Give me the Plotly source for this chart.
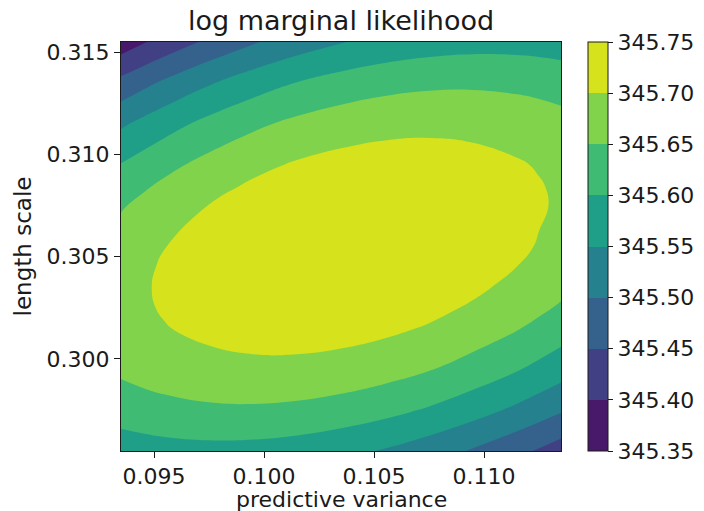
import plotly.graph_objects as go

# predictive variance (x) and length scale (y) grid (denser where the ellipse ends are)
variance = [0.0935, 0.0945, 0.0955, 0.0975, 0.0995, 0.1015, 0.1035, 0.1055, 0.1075, 0.1095, 0.1115, 0.1125, 0.1135]
length_scale = [0.2955, 0.2975, 0.2995, 0.3015, 0.3025, 0.3035, 0.3045, 0.3055, 0.3075, 0.3085, 0.3095, 0.3115, 0.3135, 0.3155]

# log marginal likelihood, one row per length scale (bottom to top)
log_likelihood = [
    [345.5724, 345.5776, 345.5815, 345.5851, 345.5832, 345.5759, 345.5635, 345.5458, 345.5231, 345.4955, 345.4630, 345.4449, 345.4257],
    [345.6229, 345.6298, 345.6352, 345.6420, 345.6432, 345.6390, 345.6294, 345.6147, 345.5948, 345.5699, 345.5400, 345.5233, 345.5053],
    [345.6585, 345.6670, 345.6742, 345.6843, 345.6887, 345.6877, 345.6813, 345.6695, 345.6526, 345.6305, 345.6034, 345.5881, 345.5715],
    [345.6787, 345.6891, 345.6980, 345.7115, 345.7194, 345.7216, 345.7184, 345.7098, 345.6959, 345.6769, 345.6527, 345.6388, 345.6236],
    [345.6831, 345.6944, 345.7042, 345.7195, 345.7290, 345.7330, 345.7314, 345.7244, 345.7122, 345.6946, 345.6720, 345.6588, 345.6444],
    [345.6835, 345.6957, 345.7065, 345.7236, 345.7349, 345.7406, 345.7407, 345.7354, 345.7247, 345.7088, 345.6877, 345.6753, 345.6616],
    [345.6800, 345.6932, 345.7048, 345.7238, 345.7369, 345.7444, 345.7462, 345.7426, 345.7336, 345.7193, 345.6998, 345.6881, 345.6752],
    [345.6725, 345.6867, 345.6993, 345.7201, 345.7351, 345.7443, 345.7479, 345.7460, 345.7387, 345.7260, 345.7081, 345.6973, 345.6851],
    [345.6455, 345.6615, 345.6761, 345.7008, 345.7195, 345.7325, 345.7398, 345.7414, 345.7376, 345.7283, 345.7138, 345.7045, 345.6940],
    [345.6258, 345.6429, 345.6585, 345.6851, 345.7058, 345.7207, 345.7298, 345.7333, 345.7312, 345.7237, 345.7109, 345.7025, 345.6928],
    [345.6021, 345.6202, 345.6368, 345.6655, 345.6881, 345.7049, 345.7159, 345.7213, 345.7210, 345.7153, 345.7042, 345.6967, 345.6878],
    [345.5421, 345.5624, 345.5811, 345.6138, 345.6405, 345.6613, 345.6762, 345.6854, 345.6889, 345.6868, 345.6793, 345.6735, 345.6664],
    [345.4651, 345.4875, 345.5084, 345.5454, 345.5763, 345.6012, 345.6201, 345.6332, 345.6406, 345.6424, 345.6386, 345.6347, 345.6294],
    [345.3711, 345.3958, 345.4188, 345.4602, 345.4955, 345.5246, 345.5477, 345.5649, 345.5763, 345.5820, 345.5820, 345.5800, 345.5766],
]

levels = [345.35, 345.40, 345.45, 345.50, 345.55, 345.60, 345.65, 345.70, 345.75]
band_colors = ["#48186a", "#424085", "#34628d", "#26818e", "#209f88", "#3fbb74", "#82d34c", "#d5e21c"]
x_ticks = [0.095, 0.100, 0.105, 0.110]
y_ticks = [0.300, 0.305, 0.310, 0.315]

# stepwise colorscale for the contour fill: plotly samples each band at its midpoint
n_lev = len(levels)
fill_scale = []
for k, c in enumerate(band_colors):
    lo = 0.0 if k == 0 else (k + 0.5) / n_lev
    hi = 1.0 if k == len(band_colors) - 1 else (k + 1.5) / n_lev
    fill_scale.append([lo, c])
    fill_scale.append([hi, c])

# stepwise colorscale for the colour bar spanning exactly the level range
n_band = len(band_colors)
bar_scale = []
for k, c in enumerate(band_colors):
    bar_scale.append([k / n_band, c])
    bar_scale.append([(k + 1) / n_band, c])

FONT = "DejaVu Sans"
TXT = "#1a1a1a"

fig = go.Figure()
fig.add_trace(go.Contour(
    x=variance, y=length_scale, z=log_likelihood,
    autocontour=False,
    contours=dict(start=levels[0], end=levels[-1], size=0.05, coloring="fill", showlines=False),
    line=dict(width=0, smoothing=1.3),
    colorscale=fill_scale,
    showscale=False,
    hoverinfo="skip",
))

# colour bar carrier (no visible marks)
fig.add_trace(go.Scatter(
    x=[None, None], y=[None, None], mode="markers", showlegend=False, hoverinfo="skip",
    marker=dict(
        color=[levels[0], levels[-1]], cmin=levels[0], cmax=levels[-1],
        colorscale=bar_scale, showscale=True,
        colorbar=dict(
            x=(588 - 121) / 440, xanchor="left", xpad=0,
            y=0.5, yanchor="middle", len=1.0, lenmode="fraction", ypad=0,
            thickness=20, thicknessmode="pixels",
            outlinewidth=1, outlinecolor=TXT,
            tickmode="array", tickvals=levels, ticktext=[f"{v:.2f}" for v in levels],
            ticks="outside", ticklen=5, tickcolor=TXT,
            tickfont=dict(family=FONT, size=22, color=TXT),
        ),
    ),
))

axis_common = dict(
    showgrid=False, zeroline=False, showline=True, mirror=True, automargin=False,
    linecolor=TXT, linewidth=1, ticks="outside", ticklen=6, tickcolor=TXT,
    tickfont=dict(family=FONT, size=22, color=TXT),
)

PLOT_H = 511 - 42 - 60

fig.update_layout(
    width=704, height=511,
    margin=dict(l=121, r=143, t=42, b=60, autoexpand=False),
    paper_bgcolor="white", plot_bgcolor="white",
    title=dict(text="log marginal likelihood", x=341 / 704, xanchor="center",
               y=1 - 21 / 511, yanchor="middle", yref="container",
               font=dict(family=FONT, size=27, color=TXT)),
    xaxis=dict(range=[variance[0], variance[-1]], tickvals=x_ticks,
               ticktext=[f"{v:.3f}" for v in x_ticks],
               **axis_common),
    yaxis=dict(range=[length_scale[0], length_scale[-1]], tickvals=y_ticks,
               ticktext=[f"{v:.3f}" for v in y_ticks],
               title=dict(text="length scale", standoff=8,
                          font=dict(family=FONT, size=23, color=TXT)),
               **axis_common),
    annotations=[dict(
        text="predictive variance", xref="paper", yref="paper",
        x=0.5, xanchor="center", y=-(499 - 451) / PLOT_H, yanchor="middle",
        showarrow=False, font=dict(family=FONT, size=22, color=TXT),
    )],
)

fig.write_html("out.html")
